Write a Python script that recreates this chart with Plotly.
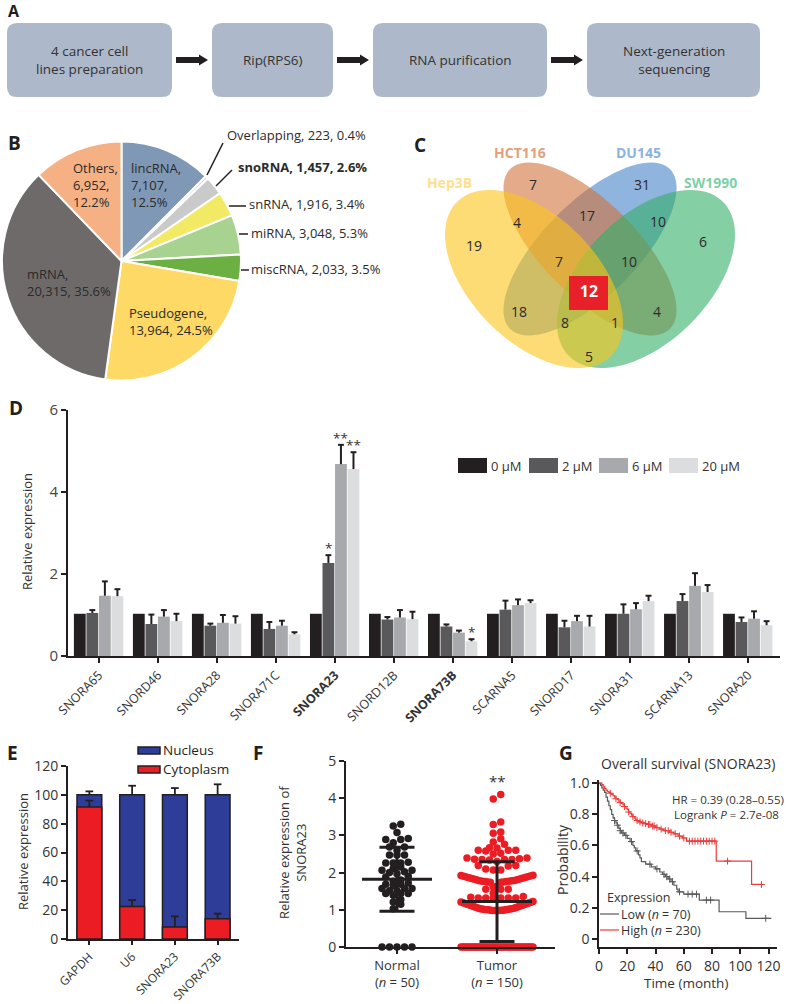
import numpy as np
import plotly.graph_objects as go

W, H = 787, 1004
def fx(p): return p / W
def fy(p): return 1 - p / H

FONT = "Open Sans"
INK = "#231f20"
TXT = "#333333"

# ---------------- data ----------------
# A: workflow
flow_steps = ["4 cancer cell<br>lines preparation", "Rip(RPS6)", "RNA purification", "Next-generation<br>sequencing"]

# B: RNA classes
pie_labels = ["lincRNA", "Overlapping", "snoRNA", "snRNA", "miRNA", "miscRNA", "Pseudogene", "mRNA", "Others"]
pie_values = [7107, 223, 1457, 1916, 3048, 2033, 13964, 20315, 6952]
pie_pcts = ["12.5", "0.4", "2.6", "3.4", "5.3", "3.5", "24.5", "35.6", "12.2"]

# C: Venn
venn_sets = ["Hep3B", "HCT116", "DU145", "SW1990"]
venn_regions = ["A", "B", "C", "D", "AB", "BC", "CD", "AC", "BD", "AD", "ABC", "BCD", "ACD", "ABD", "ABCD"]
venn_counts = [19, 7, 31, 6, 4, 17, 10, 18, 4, 5, 7, 10, 8, 1, 12]

# D: qPCR
d_genes = ["SNORA65", "SNORD46", "SNORA28", "SNORA71C", "SNORA23", "SNORD12B",
           "SNORA73B", "SCARNA5", "SNORD17", "SNORA31", "SCARNA13", "SNORA20"]
d_bold = ["SNORA23", "SNORA73B"]
d_doses = ["0 µM", "2 µM", "6 µM", "20 µM"]
d_0uM = [1.03] * 12
d_0uM_err = [0] * 12
d_2uM = [1.05, 0.78, 0.74, 0.66, 2.27, 0.89, 0.72, 1.13, 0.70, 1.03, 1.34, 0.83]
d_2uM_err = [0.07, 0.23, 0.05, 0.17, 0.19, 0.06, 0.05, 0.22, 0.16, 0.23, 0.17, 0.11]
d_6uM = [1.47, 0.96, 0.81, 0.74, 4.68, 0.94, 0.57, 1.24, 0.85, 1.14, 1.71, 0.91]
d_6uM_err = [0.35, 0.16, 0.19, 0.12, 0.47, 0.18, 0.05, 0.14, 0.13, 0.15, 0.31, 0.18]
d_20uM = [1.46, 0.85, 0.79, 0.53, 4.56, 0.90, 0.36, 1.29, 0.72, 1.34, 1.56, 0.75]
d_20uM_err = [0.17, 0.18, 0.18, 0.05, 0.41, 0.18, 0.05, 0.07, 0.26, 0.13, 0.17, 0.10]
d_sig = [("SNORA23", "2 µM", "*"), ("SNORA23", "6 µM", "**"),
         ("SNORA23", "20 µM", "**"), ("SNORA73B", "20 µM", "*")]

# E: fractionation
e_targets = ["GAPDH", "U6", "SNORA23", "SNORA73B"]
e_fractions = ["Nucleus", "Cytoplasm"]
e_cyto = [91.5, 22.5, 8.3, 14.0]
e_cyto_err = [4.5, 4.5, 7.4, 3.6]
e_nucleus = [8.5, 77.5, 91.7, 86.0]
e_nucleus_err = [2.4, 6.3, 4.7, 7.3]

# F: SNORA23 expression
f_groups = ["Normal", "Tumor"]
f_n = [50, 150]
f_normal = [3.30, 3.25, 3.08, 2.92, 2.89, 2.89, 2.80, 2.69, 2.69, 2.60,
            2.47, 2.47, 2.47, 2.28, 2.26, 2.26, 2.26, 2.15, 2.11, 2.06,
            2.06, 2.02, 2.00, 1.97, 1.90, 1.88, 1.80, 1.77, 1.72, 1.69,
            1.69, 1.65, 1.57, 1.57, 1.57, 1.51, 1.51, 1.44, 1.44, 1.44,
            1.39, 1.28, 1.21, 1.15, 1.03, 0, 0, 0, 0, 0]
f_tumor = ([4.10, 3.98, 3.36, 3.29, 3.09, 3.06, 2.91, 2.82, 2.76,
            2.67, 2.60, 2.58, 2.50, 2.60, 2.52, 2.60, 2.66,
            2.39, 2.37, 2.35, 2.35, 2.34, 2.30, 2.35, 2.36, 2.39,
            2.19, 2.07, 2.19, 2.07, 2.18, 2.10,
            1.93, 1.92, 1.91, 1.90, 1.89, 1.88, 1.87, 1.86, 1.85, 1.84, 1.83, 1.82, 1.81,
            1.80, 1.79, 1.78, 1.78, 1.77, 1.77, 1.76, 1.76, 1.75, 1.75, 1.74, 1.74,
            1.62, 1.55, 1.62, 1.55, 1.62, 1.55, 1.45,
            1.34, 1.32, 1.32, 1.32, 1.32, 1.32, 1.32, 1.36,
            1.22, 1.21, 1.20, 1.19, 1.18, 1.17, 1.16, 1.15, 1.14, 1.13, 1.12, 1.11,
            1.10, 1.09, 1.08, 1.07, 1.06, 1.05, 1.04, 1.03, 1.03, 1.02, 1.02, 1.01,
            1.01, 1.00, 1.00, 1.00, 0.99, 0.99, 0.99, 0.98, 0.98, 0.98, 0.98]
           + [0.0] * 43)
f_mean = [1.82, 1.22]
f_sd = [0.86, 1.07]

# G: Kaplan-Meier
km_high_t = [0, 2, 3, 4, 5, 6, 7, 8, 9, 10, 11, 12, 13, 14, 15, 16, 17, 18, 19, 20, 21, 22, 23, 24,
             25, 26, 27, 28, 30, 32, 34, 37, 40, 43, 46, 50, 53, 56, 59, 62, 83, 108, 115]
km_high_s = [1.0, 0.99, 0.98, 0.965, 0.955, 0.945, 0.94, 0.935, 0.928, 0.92, 0.91, 0.90, 0.895,
             0.885, 0.875, 0.87, 0.86, 0.85, 0.84, 0.83, 0.815, 0.805, 0.795, 0.785, 0.775, 0.765,
             0.76, 0.752, 0.745, 0.74, 0.735, 0.725, 0.715, 0.705, 0.695, 0.685, 0.675, 0.66,
             0.648, 0.628, 0.50, 0.35, 0.35]
km_high_cens = [8, 12, 15, 18, 21, 24, 27, 29, 31, 33, 35, 36, 38, 39, 41, 44, 47, 49, 51, 54,
                57, 60, 64, 66, 68, 70, 72, 74, 76, 78, 80, 82, 91, 115]
km_low_t = [0, 1, 2, 3, 4, 5, 6, 7, 8, 9, 10, 11, 12, 13, 14, 15, 16, 18, 20, 22, 24, 25, 26,
            28, 29, 30, 33, 37, 40, 43, 45, 47, 49, 51, 53, 55, 56, 60, 71, 85, 104, 122]
km_low_s = [1.0, 0.985, 0.97, 0.955, 0.94, 0.91, 0.885, 0.855, 0.83, 0.80, 0.775, 0.76, 0.745,
            0.73, 0.71, 0.695, 0.68, 0.665, 0.645, 0.625, 0.60, 0.585, 0.565, 0.54, 0.52, 0.497,
            0.48, 0.463, 0.45, 0.43, 0.415, 0.40, 0.385, 0.368, 0.345, 0.32, 0.303, 0.288, 0.25,
            0.175, 0.133, 0.133]
km_low_cens = [11, 13, 15, 17, 19, 23, 27, 36, 41, 46, 48, 50, 52, 57, 63, 66, 69, 76, 79, 118]
km_groups = ["Low", "High"]
km_n = [70, 230]
km_hr = "HR = 0.39 (0.28–0.55)"
km_p = "2.7e-08"

# ---------------- helpers ----------------
def ann(text, x, y, size=13, xanchor="center", yanchor="middle", color=TXT, bold=False,
        angle=0, align="left", family=FONT):
    return dict(text=(f"<b>{text}</b>" if bold else text), x=fx(x), y=fy(y), xref="paper",
                yref="paper", showarrow=False, xanchor=xanchor, yanchor=yanchor,
                font=dict(family=family, size=size, color=color), textangle=angle, align=align,
                borderpad=0)

def rrect(x0, y0, x1, y1, r):
    return (f"M {fx(x0 + r)},{fy(y0)} L {fx(x1 - r)},{fy(y0)} Q {fx(x1)},{fy(y0)} {fx(x1)},{fy(y0 + r)} "
            f"L {fx(x1)},{fy(y1 - r)} Q {fx(x1)},{fy(y1)} {fx(x1 - r)},{fy(y1)} "
            f"L {fx(x0 + r)},{fy(y1)} Q {fx(x0)},{fy(y1)} {fx(x0)},{fy(y1 - r)} "
            f"L {fx(x0)},{fy(y0 + r)} Q {fx(x0)},{fy(y0)} {fx(x0 + r)},{fy(y0)} Z")

def ell_path(cx, cy, a, b, ang):
    t = np.linspace(0, 2 * np.pi, 90)
    c, s = np.cos(np.radians(ang)), np.sin(np.radians(ang))
    xs = cx + a * np.cos(t) * c - b * np.sin(t) * s
    ys = cy + a * np.cos(t) * s + b * np.sin(t) * c
    return "M " + " L ".join(f"{x:.2f},{y:.2f}" for x, y in zip(xs, ys)) + " Z"

def swarm(vals, center, half, step=0.075, binw=0.12, chain=0.03):
    v = np.asarray(vals, float)
    order = np.argsort(v, kind="stable")
    xs = np.zeros(len(v))
    groups, cur = [], [order[0]]
    for idx in order[1:]:
        if v[idx] - v[cur[0]] < binw or v[idx] - v[cur[-1]] <= chain:
            cur.append(idx)
        else:
            groups.append(cur)
            cur = [idx]
    groups.append(cur)
    for g in groups:
        n = len(g)
        sp = step if n <= 1 else min(step, 2 * half / (n - 1))
        offs = (np.arange(n) - (n - 1) / 2) * sp
        offs = offs[np.argsort(np.abs(offs), kind="stable")]
        for j, idx in enumerate(g):
            xs[idx] = center + offs[j]
    return xs

def err_segments(xc_list, base_list, err_list, cap):
    ex, ey = [], []
    for xc, b, e in zip(xc_list, base_list, err_list):
        if e <= 0:
            continue
        ex += [xc, xc, None, xc - cap, xc + cap, None]
        ey += [b, b + e, None, b + e, b + e, None]
    return ex, ey

def step_at(ts, ss, t):
    i = np.searchsorted(ts, t, side="right") - 1
    return ss[max(i, 0)]

fig = go.Figure()
shapes, anns = [], []

axis_style = dict(showline=True, linecolor=INK, linewidth=2, ticks="outside", tickcolor=INK,
                  tickwidth=2, ticklen=5, showgrid=False, zeroline=False, automargin=False)

# ---------------- A ----------------
box_x = [(7, 172), (212, 333), (373, 547), (587, 760)]
for (x0, x1), label in zip(box_x, flow_steps):
    shapes.append(dict(type="path", path=rrect(x0, 23, x1, 97, 10), xref="paper", yref="paper",
                       fillcolor="#adb9ca", line=dict(width=0), layer="below"))
    anns.append(ann(label, (x0 + x1) / 2, 60, size=13.5, align="center"))
for i in range(len(box_x) - 1):
    a0 = box_x[i][1] + 4
    a1 = box_x[i + 1][0] - 4
    ah = a1 - 9
    p = (f"M {fx(a0)},{fy(57)} L {fx(ah)},{fy(57)} L {fx(ah)},{fy(54.5)} L {fx(a1)},{fy(60)} "
         f"L {fx(ah)},{fy(65.5)} L {fx(ah)},{fy(63)} L {fx(a0)},{fy(63)} Z")
    shapes.append(dict(type="path", path=p, xref="paper", yref="paper", fillcolor=INK,
                       line=dict(width=0)))
anns.append(ann("A", 7, 11, size=16, xanchor="left", bold=True, color=INK))

# ---------------- B ----------------
pie_colors = ["#7f98b6", "#f7c3a0", "#cacaca", "#f2ea64", "#a8d28f", "#6cb043", "#fed966",
              "#6e6a6a", "#f5b183"]
fig.add_trace(go.Pie(values=pie_values, labels=pie_labels, sort=False, direction="clockwise",
                     rotation=0, marker=dict(colors=pie_colors, line=dict(color="white", width=2)),
                     textinfo="none", hoverinfo="skip", showlegend=False, automargin=False,
                     domain=dict(x=[fx(2), fx(241)], y=[fy(382), fy(140)])))
pie_text = {i: f"{pie_labels[i]}, {pie_values[i]:,}, {pie_pcts[i]}%" for i in range(len(pie_labels))}
inside3 = {0: (130, 158), 8: (72, 158)}
for i, (x, y) in inside3.items():
    anns.append(ann(f"{pie_labels[i]},<br>{pie_values[i]:,},<br>{pie_pcts[i]}%", x, y,
                    xanchor="left", yanchor="top", color="#2b2b2b"))
inside2 = {7: (26, 264), 6: (128, 303)}
for i, (x, y) in inside2.items():
    anns.append(ann(f"{pie_labels[i]},<br>{pie_values[i]:,}, {pie_pcts[i]}%", x, y,
                    xanchor="left", yanchor="top", color="#2b2b2b"))
outside = {1: (226, 135, (207, 175), (223, 143)),
           2: (237, 167, (216, 186), (232, 170)),
           3: (248, 204, (229, 206), (246, 206)),
           4: (250, 233, (239, 234), (248, 234)),
           5: (250, 269, (241, 270), (249, 270))}
for i, (x, y, p0, p1) in outside.items():
    anns.append(ann(pie_text[i], x, y, xanchor="left", bold=(pie_labels[i] == "snoRNA"),
                    color="#2b2b2b"))
    shapes.append(dict(type="line", x0=fx(p0[0]), y0=fy(p0[1]), x1=fx(p1[0]), y1=fy(p1[1]),
                       xref="paper", yref="paper", line=dict(color=INK, width=1.5)))
anns.append(ann("B", 7, 143, size=19, xanchor="left", bold=True, color=INK))

# ---------------- C ----------------
# drawing order: DU145, HCT116, SW1990, Hep3B (top)
ellipses = [(590, 249, 113, 47, 135, "rgba(68,130,198,0.6)"),
            (590, 249, 113, 47, 45, "rgba(208,115,60,0.6)"),
            (646, 279, 109, 63, 135, "rgba(52,175,105,0.6)"),
            (534, 279, 109, 63, 45, "rgba(252,196,25,0.6)")]
for cx, cy, a, b, ang, col in ellipses:
    shapes.append(dict(type="path", path=ell_path(cx, cy, a, b, ang), xref="x5", yref="y5",
                       fillcolor=col, line=dict(width=0), layer="below"))
shapes.append(dict(type="rect", x0=569, x1=608, y0=276, y1=310, xref="x5", yref="y5",
                   fillcolor="#e8202a", line=dict(width=0), layer="below"))
region_pos = {"A": (474, 247), "B": (533, 186), "C": (642, 186), "D": (703, 243),
              "AB": (517, 224), "BC": (587, 217), "CD": (658, 223), "AC": (519, 313),
              "BD": (657, 313), "AD": (589, 358), "ABC": (559, 263), "BCD": (629, 263),
              "ACD": (565, 324), "ABD": (615, 324), "ABCD": (589, 293)}
fig.add_trace(go.Scatter(
    x=[region_pos[r][0] for r in venn_regions], y=[region_pos[r][1] for r in venn_regions],
    text=[(f"<b>{c}</b>" if r == "ABCD" else str(c)) for r, c in zip(venn_regions, venn_counts)],
    mode="text", textposition="middle center",
    textfont=dict(family=FONT, size=[16 if r == "ABCD" else 14 for r in venn_regions],
                  color=["white" if r == "ABCD" else "#2b2b2b" for r in venn_regions]),
    xaxis="x5", yaxis="y5", hoverinfo="skip", showlegend=False))
set_pos = [(450, 182), (520, 153), (638, 153), (710, 182)]
set_cols = ["#ffe08a", "#e3a07c", "#8ab4e0", "#7fd0a8"]
for name, (x, y), col in zip(venn_sets, set_pos, set_cols):
    anns.append(ann(name, x, y, size=14, bold=True, color=col))
anns.append(ann("C", 413, 145, size=19, xanchor="left", bold=True, color=INK))

# ---------------- D ----------------
d_vals = [d_0uM, d_2uM, d_6uM, d_20uM]
d_errs = [d_0uM_err, d_2uM_err, d_6uM_err, d_20uM_err]
d_colors = ["#231f20", "#59595b", "#a8a9ac", "#dcdddf"]
BW = 0.2
D_OFFS = [-0.425 + k * 0.2125 for k in range(4)]
xi = list(range(len(d_genes)))
for k in range(4):
    fig.add_trace(go.Bar(x=xi, y=d_vals[k], width=BW, offset=D_OFFS[k], name=d_doses[k],
                         marker=dict(color=d_colors[k], line=dict(width=0)),
                         xaxis="x", yaxis="y", hoverinfo="skip", showlegend=False))
ex, ey = [], []
for k in range(4):
    sx, sy = err_segments([i + D_OFFS[k] + BW / 2 for i in xi], d_vals[k], d_errs[k], 0.05)
    ex += sx
    ey += sy
fig.add_trace(go.Scatter(x=ex, y=ey, mode="lines", line=dict(color=INK, width=2),
                         xaxis="x", yaxis="y", hoverinfo="skip", showlegend=False))
for gene, dose, mark in d_sig:
    i = d_genes.index(gene)
    k = d_doses.index(dose)
    top = d_vals[k][i] + d_errs[k][i]
    anns.append(dict(text=mark, x=i + D_OFFS[k] + BW / 2, y=top, xref="x", yref="y",
                     showarrow=False, xanchor="center", yanchor="bottom", yshift=-4,
                     font=dict(family=FONT, size=13.5, color=TXT)))
leg_x = [458, 529, 599, 669]
for k in range(4):
    shapes.append(dict(type="rect", x0=fx(leg_x[k]), x1=fx(leg_x[k] + 29), y0=fy(473),
                       y1=fy(458), xref="paper", yref="paper", fillcolor=d_colors[k],
                       line=dict(width=0)))
    anns.append(ann(d_doses[k], leg_x[k] + 32, 466, size=13, xanchor="left"))
anns.append(ann("Relative expression", 27, 532, size=13, angle=-90))
anns.append(ann("D", 8, 408, size=19, xanchor="left", bold=True, color=INK))

# ---------------- E ----------------
ex_i = list(range(len(e_targets)))
e_top = [c + n for c, n in zip(e_cyto, e_nucleus)]
fig.add_trace(go.Bar(x=ex_i, y=e_top, width=0.58, offset=-0.29, name=e_fractions[0],
                     marker=dict(color="#2e3d97", line=dict(color=INK, width=1.5)),
                     xaxis="x2", yaxis="y2", hoverinfo="skip", showlegend=False))
fig.add_trace(go.Bar(x=ex_i, y=e_cyto, width=0.58, offset=-0.29, name=e_fractions[1],
                     marker=dict(color="#ec1c24", line=dict(color=INK, width=1.5)),
                     xaxis="x2", yaxis="y2", hoverinfo="skip", showlegend=False))
sx1, sy1 = err_segments(ex_i, e_top, e_nucleus_err, 0.09)
sx2, sy2 = err_segments(ex_i, e_cyto, e_cyto_err, 0.09)
fig.add_trace(go.Scatter(x=sx1 + sx2, y=sy1 + sy2, mode="lines", line=dict(color=INK, width=1.8),
                         xaxis="x2", yaxis="y2", hoverinfo="skip", showlegend=False))
for (y0, y1, yc), col, name in zip([(747, 754, 750), (766, 773, 769)], ["#2e3d97", "#ec1c24"],
                                   e_fractions):
    shapes.append(dict(type="rect", x0=fx(138), x1=fx(160), y0=fy(y1), y1=fy(y0), xref="paper",
                       yref="paper", fillcolor=col, line=dict(color=INK, width=1.5)))
    anns.append(ann(name, 162, yc, size=13.5, xanchor="left", color=INK))
anns.append(ann("Relative expression", 23, 852, size=13, angle=-90))
anns.append(ann("E", 6, 753, size=19, xanchor="left", bold=True, color=INK))

# ---------------- F ----------------
f_data = [f_normal, f_tumor]
f_cols = ["#231f20", "#ec1c24"]
f_half = [0.30, 0.36]
for gi, vals in enumerate(f_data):
    fig.add_trace(go.Scatter(x=swarm(vals, gi, f_half[gi]), y=vals, mode="markers",
                             marker=dict(color=f_cols[gi], size=7.5, line=dict(width=0)),
                             cliponaxis=False, xaxis="x3", yaxis="y3", hoverinfo="skip",
                             showlegend=False))
mx, my = [], []
for gi in range(2):
    m, s = f_mean[gi], f_sd[gi]
    mx += [gi - 0.35, gi + 0.35, None, gi, gi, None, gi - 0.175, gi + 0.175, None,
           gi - 0.175, gi + 0.175, None]
    my += [m, m, None, m - s, m + s, None, m + s, m + s, None, m - s, m - s, None]
fig.add_trace(go.Scatter(x=mx, y=my, mode="lines", line=dict(color=INK, width=3),
                         cliponaxis=False, xaxis="x3", yaxis="y3", hoverinfo="skip",
                         showlegend=False))
anns.append(dict(text="**", x=1, y=4.45, xref="x3", yref="y3", showarrow=False,
                 font=dict(family=FONT, size=15, color=TXT)))
anns.append(ann("Relative expression of<br>SNORA23", 292, 853, size=13, angle=-90,
                align="center"))
anns.append(ann("F", 252, 753, size=19, xanchor="left", bold=True, color=INK))

# ---------------- G ----------------
km_sets = [(km_low_t, km_low_s, km_low_cens, "#5a5a5a"), (km_high_t, km_high_s, km_high_cens, "#ee3b3b")]
for ts, ss, cens, col in km_sets:
    fig.add_trace(go.Scatter(x=ts, y=ss, mode="lines", line=dict(color=col, width=1.2, shape="hv"),
                             cliponaxis=False, xaxis="x4", yaxis="y4", hoverinfo="skip",
                             showlegend=False))
    fig.add_trace(go.Scatter(x=cens, y=[step_at(ts, ss, c) for c in cens], mode="markers",
                             marker=dict(symbol="cross-thin", size=5, line=dict(color=col, width=1)),
                             cliponaxis=False, xaxis="x4", yaxis="y4", hoverinfo="skip",
                             showlegend=False))
anns.append(ann("Overall survival (SNORA23)", 600, 763, size=14, xanchor="left"))
anns.append(ann(km_hr, 671, 799, size=11.5, xanchor="left"))
anns.append(ann(f"Logrank <i>P</i> = {km_p}", 673, 814, size=11.5, xanchor="left"))
anns.append(ann("Expression", 606, 897, size=12.5, xanchor="left"))
for (yc, col), g, n in zip([(914, "#5a5a5a"), (930, "#ee3b3b")], km_groups, km_n):
    shapes.append(dict(type="line", x0=fx(600), x1=fx(619), y0=fy(yc), y1=fy(yc), xref="paper",
                       yref="paper", line=dict(color=col, width=1.2)))
    anns.append(ann(f"{g} (<i>n</i> = {n})", 620, yc, size=12.5, xanchor="left"))
anns.append(ann("Probability", 562, 860, size=14, angle=-90))
anns.append(ann("Time (month)", 686, 983, size=13.5))
anns.append(ann("G", 558, 753, size=19, xanchor="left", bold=True, color=INK))

# ---------------- axes ----------------
lay = dict(
    xaxis=dict(axis_style, domain=[fx(68), fx(780)], range=[-0.525, 11.54], anchor="y",
               tickvals=xi, ticktext=[f"<b>{g}</b>" if g in d_bold else g for g in d_genes],
               tickangle=-45, tickfont=dict(family=FONT, size=12.5, color=TXT)),
    yaxis=dict(axis_style, domain=[fy(656), fy(410)], range=[0, 6], anchor="x",
               tickvals=[0, 2, 4, 6], tickfont=dict(family=FONT, size=15, color="#444")),
    xaxis2=dict(axis_style, domain=[fx(68), fx(239)], range=[-0.5, 3.5], anchor="y2",
                tickvals=ex_i, ticktext=e_targets, tickangle=-45, ticklen=4,
                tickfont=dict(family=FONT, size=12, color=TXT)),
    yaxis2=dict(axis_style, domain=[fy(939), fy(766)], range=[0, 120], anchor="x2",
                tickvals=[0, 20, 40, 60, 80, 100, 120],
                tickfont=dict(family=FONT, size=14, color=TXT)),
    xaxis3=dict(axis_style, domain=[fx(346), fx(555)], range=[-0.51, 1.58], anchor="y3",
                tickvals=[0, 1],
                ticktext=[f"{g}<br>(<i>n</i> = {n})" for g, n in zip(f_groups, f_n)],
                tickfont=dict(family=FONT, size=13, color=TXT)),
    yaxis3=dict(axis_style, domain=[fy(947), fy(761)], range=[0, 5], anchor="x3",
                tickvals=[0, 1, 2, 3, 4, 5], tickfont=dict(family=FONT, size=14, color=TXT)),
    xaxis4=dict(axis_style, domain=[fx(599), fx(777)], range=[0, 126], anchor="y4",
                linewidth=1.5, tickwidth=1.5, tickvals=[0, 20, 40, 60, 80, 100, 120],
                tickfont=dict(family=FONT, size=14, color=TXT)),
    yaxis4=dict(axis_style, domain=[fy(947), fy(780)], range=[-0.051, 1.02], anchor="x4",
                linewidth=1.5, tickwidth=1.5, tickvals=[0, 0.2, 0.4, 0.6, 0.8, 1.0],
                ticktext=["0", "0.2", "0.4", "0.6", "0.8", "1.0"],
                tickfont=dict(family=FONT, size=14, color=TXT)),
    xaxis5=dict(domain=[fx(400), 1.0], range=[400, 787], visible=False, anchor="y5"),
    yaxis5=dict(domain=[fy(390), fy(130)], range=[390, 130], visible=False, anchor="x5"),
)
fig.update_layout(**lay)
fig.update_layout(width=W, height=H, margin=dict(l=0, r=0, t=0, b=0, pad=0, autoexpand=False),
                  paper_bgcolor="white",
                  plot_bgcolor="rgba(0,0,0,0)", showlegend=False, barmode="group",
                  font=dict(family=FONT, color=TXT), shapes=shapes, annotations=anns)
fig.write_html("out.html", config={"displayModeBar": False},
               post_script="document.body.style.margin='0px';document.body.style.padding='0px';"
                           "document.documentElement.style.overflow='hidden';")
